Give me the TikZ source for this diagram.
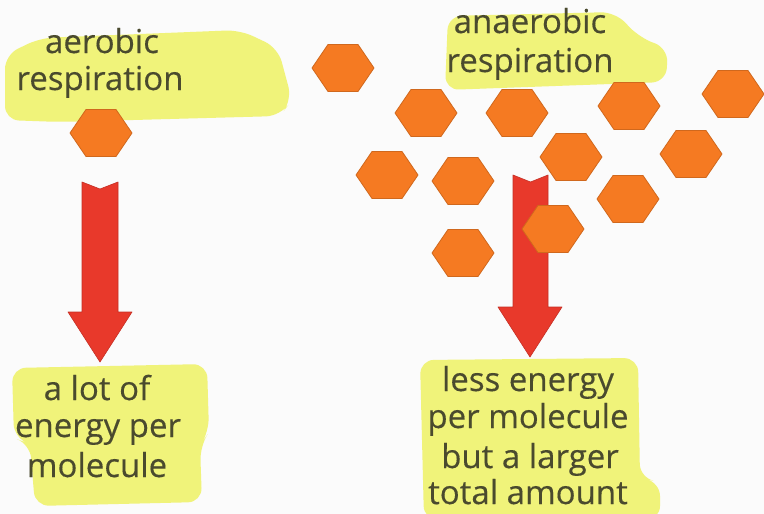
\documentclass[tikz,border=0pt]{standalone}
\usepackage{fontspec}
\setmainfont{Open Sans}[FakeBold=0.3]
\begin{document}
\begin{tikzpicture}[x=1pt,y=-1pt,
  hl/.style={fill=hlyellow,rounded corners=14pt},
  lbl/.style={anchor=base,inner sep=0pt,text=txtcol,font=\fontsize{33}{38}\selectfont},
  blockarrow/.style={fill=arrred,draw=arrred!85!black,line width=0.6pt,line join=round},
  hexa/.pic={\filldraw[fill=hexorange,draw=hexorange!85!black,line width=0.8pt,line join=round]
     (-31,0) -- (-15,-23.5) -- (15,-23.5) -- (31,0) -- (15,23.5) -- (-15,23.5) -- cycle;}
]
\definecolor{hlyellow}{HTML}{F0F37A}
\definecolor{txtcol}{HTML}{4A4A2E}
\definecolor{arrred}{HTML}{E8392B}
\definecolor{hexorange}{HTML}{F57A22}
\useasboundingbox (0,0) rectangle (764,514);
\fill[white!97!gray] (0,0) rectangle (764,514);

% highlights
\fill[hl] (5,55) -- (40,38) -- (240,30) -- (278,48) -- (292,100) -- (280,116) -- (60,122) -- (5,120) -- cycle;
\fill[hl] (448,16) -- (615,12) -- (640,38) -- (668,48) -- (666,82) -- (445,90) -- cycle;
\fill[hl] (12,368) -- (207,364) -- (209,432) -- (200,446) -- (202,502) -- (35,506) -- (30,444) -- (14,438) -- cycle;
\fill[hl] (420,360) -- (638,358) -- (640,478) -- (660,482) -- (660,520) -- (424,520) -- cycle;

% labels
\node[lbl] (t1) at (102,53) {aerobic};
\node[lbl] (t2) at (100,90) {respiration};
\node[lbl] (t3) at (530,33) {anaerobic};
\node[lbl] (t4) at (530,72) {respiration};
\node[lbl] (b1) at (97,400) {a lot of};
\node[lbl] (b2) at (98,437) {energy per};
\node[lbl] (b3) at (97,477) {molecule};
\node[lbl] (c1) at (528,391) {less energy};
\node[lbl] (c2) at (528,428) {per molecule};
\node[lbl] (c3) at (530,468) {but a larger};
\node[lbl] (c4) at (528,504) {total amount};

% arrows
\fill[blockarrow] (82,182) -- (100,189) -- (118,182) -- (118,312) -- (132,312) -- (100,362) -- (68,312) -- (82,312) -- cycle;
\fill[blockarrow] (513,175) -- (530.5,182) -- (548,175) -- (548,307) -- (562,307) -- (530,357) -- (498,307) -- (513,307) -- cycle;

% hexagons
\pic at (101,133) {hexa};
\pic at (343,68) {hexa};
\pic at (426,113) {hexa};
\pic at (517,113) {hexa};
\pic at (629,106) {hexa};
\pic at (733,94) {hexa};
\pic at (387,175) {hexa};
\pic at (463,181) {hexa};
\pic at (571,157) {hexa};
\pic at (691,154) {hexa};
\pic at (628,199) {hexa};
\pic at (553,229) {hexa};
\pic at (463,253) {hexa};
\end{tikzpicture}
\end{document}
